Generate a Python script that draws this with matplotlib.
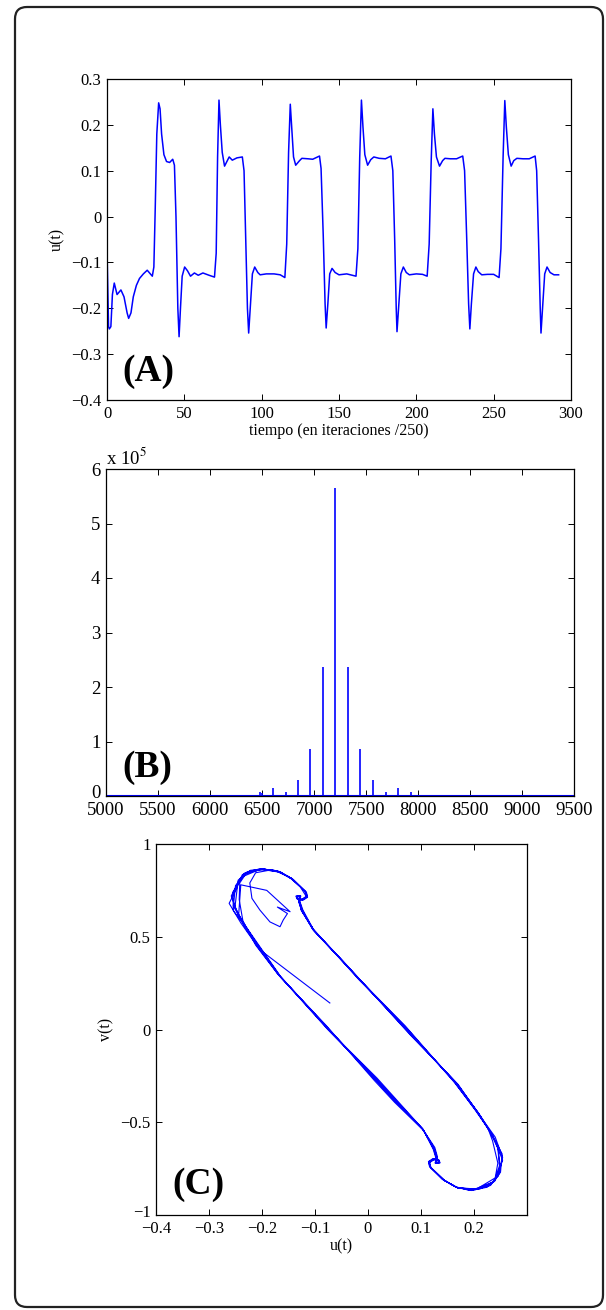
import matplotlib
matplotlib.use("Agg")
import matplotlib.pyplot as plt
from matplotlib.patches import FancyBboxPatch
from matplotlib.transforms import ScaledTranslation

plt.rcParams['font.family'] = ['Liberation Serif', 'DejaVu Serif']
plt.rcParams['mathtext.fontset'] = 'stix'

# ---- panel A: u(t) time series ----
tiempo = [0, 1, 1.5, 2.5, 3.5, 4.7, 6.5, 9, 11, 13, 14, 15.5, 17, 19, 21, 23.5, 26, 28, 29.3,
          30.3, 31.2, 32.2, 33.4, 34.3, 35.3, 36.8, 38.5, 40.5, 42.5, 43.6, 44.6, 45.8, 46.6,
          47.5, 48.6, 50.2, 52, 54, 56.5, 59, 62, 66, 69.5,
          70.6, 71.5, 72.4, 73.3, 74.5, 76, 79, 81, 84, 87.5, 88.6, 89.7, 90.8, 91.6, 92.6,
          94, 95.5, 97.5, 99, 103, 108, 112, 115,
          116.2, 117.4, 118.5, 119.5, 120.6, 122, 124.5, 126, 130, 133, 137.4, 138.4, 139.8,
          141, 141.7, 142.8, 144, 145.5, 147.5, 150, 155, 161,
          162.2, 163.4, 164.5, 165.5, 166.7, 168.5, 170.5, 172.5, 176, 180, 183.6, 184.8,
          186, 187, 187.5, 188.6, 190, 191.6, 193.5, 195.5, 200, 204, 207,
          208.3, 209.6, 210.7, 211.7, 213, 215, 217, 218.5, 222, 226, 230, 231.2, 232.5,
          233.8, 234.6, 235.6, 237, 238.5, 240, 242.3, 246, 250, 253.5,
          254.7, 256.1, 257.2, 258.2, 259.5, 261.3, 263, 265, 269, 273, 276.8, 277.8, 279,
          280.1, 280.6, 281.7, 283, 284.5, 286.5, 289, 292]
u_t = [-0.072, -0.240, -0.245, -0.240, -0.170, -0.145, -0.170, -0.160, -0.175, -0.210, -0.222,
       -0.210, -0.175, -0.150, -0.135, -0.125, -0.117, -0.125, -0.130,
       -0.110, 0.020, 0.180, 0.248, 0.235, 0.180, 0.135, 0.120, 0.118, 0.125, 0.112, 0.000,
       -0.200, -0.262,
       -0.200, -0.130, -0.110, -0.118, -0.130, -0.123, -0.128, -0.123, -0.128, -0.132,
       -0.080, 0.130, 0.254, 0.200, 0.140, 0.110, 0.130, 0.123, 0.128, 0.130, 0.100, -0.050,
       -0.200, -0.254, -0.200,
       -0.125, -0.110, -0.122, -0.127, -0.125, -0.125, -0.127, -0.133,
       -0.060, 0.140, 0.245, 0.190, 0.130, 0.112, 0.122, 0.127, 0.126, 0.125, 0.132, 0.105,
       -0.040,
       -0.190, -0.243, -0.190, -0.125, -0.113, -0.122, -0.127, -0.125, -0.130,
       -0.070, 0.130, 0.254, 0.195, 0.135, 0.112, 0.124, 0.130, 0.127, 0.126, 0.132, 0.100,
       -0.050, -0.200, -0.251, -0.195, -0.125, -0.110, -0.122, -0.127, -0.125, -0.126, -0.130,
       -0.060, 0.120, 0.235, 0.180, 0.130, 0.110, 0.122, 0.127, 0.126, 0.126, 0.132, 0.100,
       -0.040,
       -0.190, -0.245, -0.190, -0.125, -0.110, -0.120, -0.127, -0.126, -0.126, -0.133,
       -0.070, 0.130, 0.253, 0.195, 0.135, 0.110, 0.122, 0.127, 0.126, 0.126, 0.132, 0.100,
       -0.050,
       -0.200, -0.254, -0.195, -0.125, -0.110, -0.122, -0.127, -0.127]
a_xticks = [0, 50, 100, 150, 200, 250, 300]
a_yticks = [-0.4, -0.3, -0.2, -0.1, 0, 0.1, 0.2, 0.3]
a_ylabels = ['\u22120.4', '\u22120.3', '\u22120.2', '\u22120.1', '0', '0.1', '0.2', '0.3']

# ---- panel B: spectrum spikes ----
freq = [6119, 6242, 6361, 6484, 6500, 6603, 6726, 6842, 6965, 7084, 7203,
        7326, 7446, 7565, 7688, 7807, 7929, 8049, 8171, 8291]
amp = [0.01, 0.01, 0.012, 0.07, 0.06, 0.14, 0.07, 0.29, 0.87, 2.37, 5.66,
       2.37, 0.87, 0.29, 0.07, 0.14, 0.08, 0.012, 0.01, 0.01]
b_xticks = [5000, 5500, 6000, 6500, 7000, 7500, 8000, 8500, 9000, 9500]
b_yticks = [0, 1, 2, 3, 4, 5, 6]

# ---- panel C: phase portrait (u, v) ----
transient = [(-0.072, 0.143), (-0.204, 0.430), (-0.244, 0.620), (-0.240, 0.780),
             (-0.191, 0.750), (-0.147, 0.635), (-0.171, 0.660), (-0.152, 0.625),
             (-0.160, 0.590), (-0.166, 0.554), (-0.185, 0.580), (-0.204, 0.644),
             (-0.219, 0.707), (-0.223, 0.790), (-0.212, 0.845), (-0.180, 0.862),
             (-0.150, 0.825), (-0.128, 0.770), (-0.116, 0.715), (-0.124, 0.700),
             (-0.133, 0.702), (-0.134, 0.716), (-0.128, 0.718), (-0.130, 0.690), (-0.125, 0.640)]
cycle1 = [(-0.103, 0.540), (-0.055, 0.390), (-0.016, 0.270), (0.075, -0.005), (0.165, -0.285),
          (0.207, -0.445), (0.230, -0.550), (0.245, -0.640), (0.248, -0.735), (0.238, -0.820),
          (0.200, -0.862), (0.168, -0.852), (0.143, -0.812), (0.118, -0.742), (0.115, -0.716),
          (0.123, -0.699), (0.133, -0.703), (0.135, -0.717), (0.127, -0.720), (0.129, -0.688),
          (0.124, -0.642), (0.104, -0.540), (0.052, -0.388), (0.014, -0.270), (-0.075, 0.005),
          (-0.168, 0.292), (-0.208, 0.445), (-0.240, 0.575), (-0.262, 0.680), (-0.248, 0.760),
          (-0.237, 0.835), (-0.200, 0.866), (-0.166, 0.851), (-0.141, 0.808), (-0.118, 0.742),
          (-0.115, 0.716), (-0.123, 0.700), (-0.133, 0.703), (-0.135, 0.717), (-0.128, 0.720),
          (-0.130, 0.690), (-0.126, 0.642)]
cycle2 = [(-0.101, 0.530), (-0.050, 0.378), (-0.013, 0.262), (0.080, -0.030), (0.170, -0.296),
          (0.210, -0.460), (0.240, -0.580), (0.254, -0.690), (0.246, -0.790), (0.225, -0.850),
          (0.195, -0.868), (0.165, -0.848), (0.140, -0.806), (0.116, -0.738), (0.114, -0.712),
          (0.122, -0.697), (0.132, -0.700), (0.134, -0.714), (0.127, -0.716), (0.131, -0.686),
          (0.126, -0.636), (0.102, -0.532), (0.054, -0.380), (0.017, -0.262), (-0.070, -0.015),
          (-0.165, 0.286), (-0.200, 0.430), (-0.228, 0.545), (-0.254, 0.640), (-0.255, 0.740),
          (-0.232, 0.845), (-0.197, 0.864), (-0.168, 0.848), (-0.143, 0.812), (-0.116, 0.738),
          (-0.114, 0.713), (-0.122, 0.698), (-0.132, 0.700), (-0.134, 0.714), (-0.127, 0.717),
          (-0.131, 0.688), (-0.124, 0.638)]
cycle3 = [(-0.105, 0.545), (-0.057, 0.395), (-0.018, 0.275), (0.070, 0.020), (0.162, -0.280),
          (0.200, -0.425), (0.228, -0.540), (0.245, -0.625), (0.250, -0.760), (0.232, -0.838),
          (0.203, -0.863), (0.170, -0.855), (0.145, -0.815), (0.119, -0.745), (0.116, -0.718),
          (0.124, -0.702), (0.134, -0.705), (0.136, -0.719), (0.128, -0.722), (0.128, -0.692),
          (0.123, -0.645), (0.105, -0.545), (0.050, -0.392), (0.012, -0.275), (-0.080, 0.025),
          (-0.170, 0.298), (-0.212, 0.455), (-0.236, 0.585), (-0.243, 0.700), (-0.242, 0.790),
          (-0.228, 0.850), (-0.202, 0.867), (-0.170, 0.853), (-0.144, 0.815), (-0.119, 0.745),
          (-0.116, 0.719), (-0.124, 0.703), (-0.134, 0.705), (-0.136, 0.719), (-0.129, 0.722),
          (-0.129, 0.693), (-0.123, 0.645)]
cycle4 = [(-0.102, 0.534), (-0.052, 0.382), (-0.014, 0.265), (0.078, -0.020), (0.168, -0.292),
          (0.212, -0.465), (0.236, -0.575), (0.254, -0.705), (0.240, -0.815), (0.212, -0.858),
          (0.190, -0.866), (0.166, -0.850), (0.141, -0.809), (0.117, -0.740), (0.115, -0.714),
          (0.123, -0.699), (0.133, -0.701), (0.135, -0.715), (0.128, -0.718), (0.130, -0.689),
          (0.125, -0.640), (0.103, -0.536), (0.053, -0.385), (0.015, -0.266), (-0.073, -0.005),
          (-0.166, 0.288), (-0.203, 0.436), (-0.232, 0.555), (-0.251, 0.660), (-0.245, 0.805),
          (-0.222, 0.858), (-0.198, 0.866), (-0.167, 0.850), (-0.142, 0.810), (-0.117, 0.740),
          (-0.115, 0.715), (-0.123, 0.700), (-0.133, 0.702), (-0.135, 0.716), (-0.128, 0.719),
          (-0.130, 0.690), (-0.125, 0.640)]
cycle5 = [(-0.104, 0.538), (-0.054, 0.386), (-0.017, 0.268), (0.072, 0.010), (0.164, -0.288),
          (0.203, -0.435), (0.226, -0.530), (0.235, -0.600), (0.245, -0.720), (0.240, -0.800),
          (0.205, -0.860), (0.169, -0.853), (0.144, -0.813), (0.118, -0.743), (0.116, -0.717),
          (0.124, -0.701), (0.133, -0.704), (0.135, -0.718), (0.127, -0.721), (0.129, -0.690),
          (0.124, -0.643), (0.104, -0.538), (0.051, -0.386), (0.013, -0.268), (-0.078, 0.015),
          (-0.169, 0.295), (-0.206, 0.442), (-0.230, 0.540), (-0.245, 0.620), (-0.258, 0.720),
          (-0.240, 0.820), (-0.205, 0.862), (-0.169, 0.852), (-0.144, 0.812), (-0.118, 0.743),
          (-0.116, 0.717), (-0.124, 0.701), (-0.133, 0.704), (-0.135, 0.718), (-0.127, 0.721),
          (-0.129, 0.691), (-0.124, 0.643)]
cycle6 = [(-0.103, 0.536), (-0.053, 0.384), (-0.015, 0.267), (0.076, -0.010), (0.167, -0.290),
          (0.208, -0.450), (0.238, -0.590), (0.253, -0.670), (0.250, -0.770), (0.230, -0.842),
          (0.198, -0.865), (0.167, -0.851), (0.142, -0.810), (0.117, -0.741), (0.115, -0.715),
          (0.123, -0.700), (0.133, -0.702), (0.135, -0.716), (0.128, -0.719), (0.130, -0.690),
          (0.125, -0.641), (0.103, -0.537), (0.053, -0.384), (0.015, -0.267), (-0.076, 0.000),
          (-0.167, 0.290), (-0.204, 0.440), (-0.235, 0.570), (-0.254, 0.665), (-0.250, 0.775),
          (-0.234, 0.840), (-0.199, 0.865), (-0.167, 0.851), (-0.142, 0.810), (-0.117, 0.741),
          (-0.115, 0.716), (-0.123, 0.700), (-0.132, 0.702), (-0.134, 0.716), (-0.128, 0.719)]
c_xticks = [-0.4, -0.3, -0.2, -0.1, 0, 0.1, 0.2]
c_xlabels = ['\u22120.4', '\u22120.3', '\u22120.2', '\u22120.1', '0', '0.1', '0.2']
c_yticks = [-1, -0.5, 0, 0.5, 1]
c_ylabels = ['\u22121', '\u22120.5', '0', '0.5', '1']

BLUE = '#0000ff'
W, H = 606, 1310


def px_axes(fig, left, top, right, bottom):
    return fig.add_axes([left / W, 1 - bottom / H, (right - left) / W, (bottom - top) / H])


def matlab_style(ax, size):
    ax.tick_params(direction='in', length=4, width=0.7, top=True, right=True,
                   labelsize=size, pad=4)
    for s in ax.spines.values():
        s.set_linewidth(0.9)


def nudge_up(label, fig, pts):
    # lift a corner tick label a little so it clears the x labels
    label.set_transform(label.get_transform() + ScaledTranslation(0, pts / 72, fig.dpi_scale_trans))


fig = plt.figure(figsize=(W / 100, H / 100), dpi=100)

# rounded outer frame
frame = FancyBboxPatch((0.15, 0.03), 5.88, 13.0, boxstyle='round,pad=0,rounding_size=0.12',
                       transform=fig.dpi_scale_trans, fill=False, lw=1.6, ec='#222222')
fig.patches.append(frame)

# (A)
axA = px_axes(fig, 107, 79, 571, 400)
axA.plot(tiempo, u_t, color=BLUE, lw=1.1)
axA.set_xlim(0, 300)
axA.set_ylim(-0.4, 0.3)
axA.set_xticks(a_xticks)
axA.set_yticks(a_yticks)
axA.set_yticklabels(a_ylabels)
matlab_style(axA, 12)
axA.set_xlabel('tiempo (en iteraciones /250)', fontsize=11.5, labelpad=1)
axA.set_ylabel('u(t)', fontsize=11.5, labelpad=4)
axA.text(0.034, 0.035, '(A)', transform=axA.transAxes, fontsize=27, fontweight='bold',
         ha='left', va='bottom')

# (B)
axB = px_axes(fig, 106, 469, 574, 796)
axB.vlines(freq, 0, amp, color=BLUE, lw=1.2)
axB.axhline(0, color=BLUE, lw=1.5)
axB.set_xlim(5000, 9500)
axB.set_ylim(0, 6)
axB.set_xticks(b_xticks)
axB.set_yticks(b_yticks)
matlab_style(axB, 13.5)
nudge_up(axB.get_yticklabels()[0], fig, 3)
axB.text(0.0, 1.004, r'x 10$^{5}$', transform=axB.transAxes, fontsize=13.5,
         ha='left', va='bottom')
axB.text(0.036, 0.035, '(B)', transform=axB.transAxes, fontsize=27, fontweight='bold',
         ha='left', va='bottom')

# (C)
axC = px_axes(fig, 156, 844, 527, 1215)
pts = transient + cycle1 + cycle2 + cycle3 + cycle4 + cycle5 + cycle6
axC.plot([p[0] for p in pts], [p[1] for p in pts], color=BLUE, lw=0.8)
axC.set_xlim(-0.4, 0.3)
axC.set_ylim(-1, 1)
axC.set_xticks(c_xticks)
axC.set_xticklabels(c_xlabels)
axC.set_yticks(c_yticks)
axC.set_yticklabels(c_ylabels)
matlab_style(axC, 12)
nudge_up(axC.get_yticklabels()[0], fig, 3)
axC.set_xlabel('u(t)', fontsize=11.5, labelpad=1)
axC.set_ylabel('v(t)', fontsize=11.5, labelpad=4)
axC.text(0.043, 0.035, '(C)', transform=axC.transAxes, fontsize=27, fontweight='bold',
         ha='left', va='bottom')

fig.savefig('out.png', dpi=100)
